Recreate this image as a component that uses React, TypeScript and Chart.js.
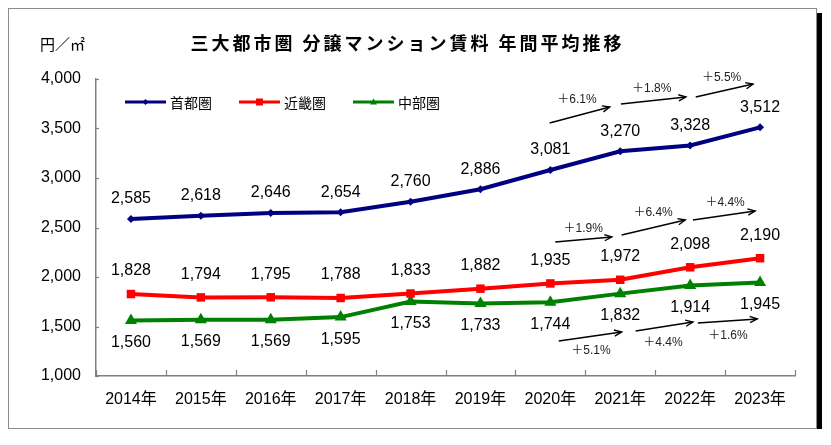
import { useEffect, useRef } from 'react';
import { Chart, registerables } from 'chart.js';

Chart.register(...registerables);

const FONT = '"Liberation Sans", "Noto Sans CJK JP", sans-serif';
const CJK = '"Noto Sans CJK JP", "Liberation Sans", sans-serif';

const TITLE = '三大都市圏 分譲マンション賃料 年間平均推移';
const UNIT = '円／㎡';

const categories = ['2014年', '2015年', '2016年', '2017年', '2018年', '2019年', '2020年', '2021年', '2022年', '2023年'];
const seriesNames = ['首都圏', '近畿圏', '中部圏'];
const shutoken = [2585, 2618, 2646, 2654, 2760, 2886, 3081, 3270, 3328, 3512];
const kinki = [1828, 1794, 1795, 1788, 1833, 1882, 1935, 1972, 2098, 2190];
const chubu = [1560, 1569, 1569, 1595, 1753, 1733, 1744, 1832, 1914, 1945];
const yTicks = { min: 1000, max: 4000, step: 500 };

const growthShutoken = ['＋6.1%', '＋1.8%', '＋5.5%'];
const growthKinki = ['＋1.9%', '＋6.4%', '＋4.4%'];
const growthChubu = ['＋5.1%', '＋4.4%', '＋1.6%'];

// arrow annotations in data space: [x index, value]
const arrowsShutoken = [
  { from: [5.99, 3556], to: [6.85, 3717], label: [6.38, 3788] },
  { from: [7.01, 3747], to: [7.94, 3818], label: [7.45, 3899] },
  { from: [8.08, 3818], to: [8.9, 3949], label: [8.45, 4010] },
];
const arrowsKinki = [
  { from: [6.07, 2354], to: [6.88, 2404], label: [6.47, 2485] },
  { from: [7.02, 2424], to: [7.93, 2576], label: [7.47, 2646] },
  { from: [8.04, 2576], to: [8.93, 2667], label: [8.5, 2747] },
];
const arrowsChubu = [
  { from: [6.12, 1354], to: [7.02, 1444], label: [6.58, 1253] },
  { from: [7.22, 1455], to: [8.04, 1545], label: [7.61, 1333] },
  { from: [8.11, 1535], to: [8.96, 1576], label: [8.54, 1404] },
];

const colors = ['#000080', '#ff0000', '#008000'];
const pointStyles = ['rectRot', 'rect', 'triangle'];
const pointRadii = [4, 6, 7];
const labelOffsets = [-20, -23, 22];

function drawMarker(ctx: CanvasRenderingContext2D, style: string, x: number, y: number, r: number, color: string) {
  ctx.save();
  ctx.fillStyle = color;
  ctx.beginPath();
  if (style === 'rectRot') {
    ctx.moveTo(x, y - r);
    ctx.lineTo(x + r, y);
    ctx.lineTo(x, y + r);
    ctx.lineTo(x - r, y);
  } else if (style === 'rect') {
    ctx.rect(x - r, y - r, 2 * r, 2 * r);
  } else {
    ctx.moveTo(x, y - r);
    ctx.lineTo(x + r, y + r * 0.7);
    ctx.lineTo(x - r, y + r * 0.7);
  }
  ctx.closePath();
  ctx.fill();
  ctx.restore();
}

const decorPlugin = {
  id: 'decor',
  afterDraw(chart: any) {
    const ctx: CanvasRenderingContext2D = chart.ctx;
    const xs = chart.scales.x;
    const ys = chart.scales.y;
    ctx.save();

    // title
    ctx.fillStyle = '#000';
    ctx.font = `bold 18px ${CJK}`;
    (ctx as any).letterSpacing = '3px';
    ctx.textAlign = 'center';
    ctx.textBaseline = 'middle';
    ctx.fillText(TITLE, chart.width / 2 - 5, 34);
    (ctx as any).letterSpacing = '0px';

    // unit
    ctx.font = `15px ${CJK}`;
    ctx.textAlign = 'left';
    ctx.fillText(UNIT, 31, 35);

    // inward ticks
    ctx.strokeStyle = '#808080';
    ctx.lineWidth = 1.2;
    for (let i = 0; i <= categories.length; i++) {
      const px = Math.round(xs.getPixelForValue(i - 0.5)) + 0.5;
      ctx.beginPath();
      ctx.moveTo(px, ys.bottom);
      ctx.lineTo(px, ys.bottom - 6);
      ctx.stroke();
    }
    ys.ticks.forEach((t: any) => {
      const py = Math.round(ys.getPixelForValue(t.value)) + 0.5;
      ctx.beginPath();
      ctx.moveTo(xs.left, py);
      ctx.lineTo(xs.left + 3, py);
      ctx.stroke();
    });

    // legend
    let lx = chart.chartArea.left + 29;
    const ly = chart.chartArea.top + 23;
    ctx.font = `14px ${CJK}`;
    ctx.textBaseline = 'middle';
    ctx.textAlign = 'left';
    seriesNames.forEach((name, i) => {
      ctx.strokeStyle = colors[i];
      ctx.lineWidth = 3;
      ctx.beginPath();
      ctx.moveTo(lx, ly);
      ctx.lineTo(lx + 41, ly);
      ctx.stroke();
      drawMarker(ctx, pointStyles[i], lx + 20.5, ly, i === 0 ? 3 : 3.5, colors[i]);
      ctx.fillStyle = '#000';
      ctx.fillText(name, lx + 45, ly + 1);
      lx += 45 + ctx.measureText(name).width + 27;
    });

    // growth arrows
    const groups = [
      { arrows: arrowsShutoken, texts: growthShutoken },
      { arrows: arrowsKinki, texts: growthKinki },
      { arrows: arrowsChubu, texts: growthChubu },
    ];
    ctx.strokeStyle = '#000';
    ctx.fillStyle = '#000';
    groups.forEach((g) => {
      g.arrows.forEach((a, k) => {
        const x1 = xs.getPixelForValue(a.from[0]);
        const y1 = ys.getPixelForValue(a.from[1]);
        const x2 = xs.getPixelForValue(a.to[0]);
        const y2 = ys.getPixelForValue(a.to[1]);
        ctx.lineWidth = 1.4;
        ctx.beginPath();
        ctx.moveTo(x1, y1);
        ctx.lineTo(x2, y2);
        ctx.stroke();
        const ang = Math.atan2(y2 - y1, x2 - x1);
        const hl = 8;
        ctx.beginPath();
        ctx.moveTo(x2 - hl * Math.cos(ang - 0.4), y2 - hl * Math.sin(ang - 0.4));
        ctx.lineTo(x2, y2);
        ctx.lineTo(x2 - hl * Math.cos(ang + 0.4), y2 - hl * Math.sin(ang + 0.4));
        ctx.stroke();
        ctx.font = `12px ${FONT}`;
        ctx.textAlign = 'center';
        ctx.textBaseline = 'middle';
        ctx.fillStyle = '#222';
        ctx.fillText(g.texts[k], xs.getPixelForValue(a.label[0]), ys.getPixelForValue(a.label[1]));
      });
    });

    // data labels
    ctx.font = `16px ${FONT}`;
    ctx.fillStyle = '#000';
    ctx.textAlign = 'center';
    ctx.textBaseline = 'middle';
    chart.data.datasets.forEach((ds: any, i: number) => {
      const meta = chart.getDatasetMeta(i);
      meta.data.forEach((pt: any, j: number) => {
        ctx.fillText(ds.data[j].toLocaleString('en-US'), pt.x, pt.y + labelOffsets[i]);
      });
    });

    ctx.restore();
  },
};

export default function App() {
  const ref = useRef<HTMLCanvasElement>(null);
  useEffect(() => {
    const seriesData = [shutoken, kinki, chubu];
    const chart = new Chart(ref.current as HTMLCanvasElement, {
      type: 'line',
      data: {
        labels: categories,
        datasets: seriesData.map((d, i) => ({
          label: seriesNames[i],
          data: d,
          borderColor: colors[i],
          backgroundColor: colors[i],
          borderWidth: 4,
          pointStyle: pointStyles[i] as any,
          pointRadius: pointRadii[i],
          pointBorderWidth: 0,
          pointBackgroundColor: colors[i],
          tension: 0,
        })),
      },
      options: {
        responsive: false,
        animation: false,
        devicePixelRatio: 1,
        layout: { padding: { left: 20, right: 21, top: 70, bottom: 0 } },
        plugins: {
          legend: { display: false },
          title: { display: false },
          tooltip: { enabled: false },
        },
        scales: {
          x: {
            offset: true,
            grid: { display: false, drawTicks: false },
            border: { display: true, color: '#808080', width: 1.5 },
            ticks: { color: '#000', font: { family: FONT, size: 16 }, padding: 14, maxRotation: 0 },
            afterFit: (s: any) => {
              s.height = 52;
            },
          },
          y: {
            min: yTicks.min,
            max: yTicks.max,
            grid: { display: false, drawTicks: false },
            border: { display: true, color: '#808080', width: 1.5 },
            ticks: {
              stepSize: yTicks.step,
              color: '#000',
              font: { family: FONT, size: 16 },
              padding: 15,
              callback: (v: any) => Number(v).toLocaleString('en-US'),
            },
            afterFit: (s: any) => {
              s.width = 67;
            },
          },
        },
      },
      plugins: [decorPlugin],
    });
    return () => chart.destroy();
  }, []);
  return (
    <div
      style={{
        width: 807,
        height: 419,
        border: '1px solid #8c8c8c',
        boxShadow: '5px 5px 0 #000',
        background: '#fff',
      }}
    >
      <canvas ref={ref} width={807} height={419} style={{ display: 'block' }} />
    </div>
  );
}
